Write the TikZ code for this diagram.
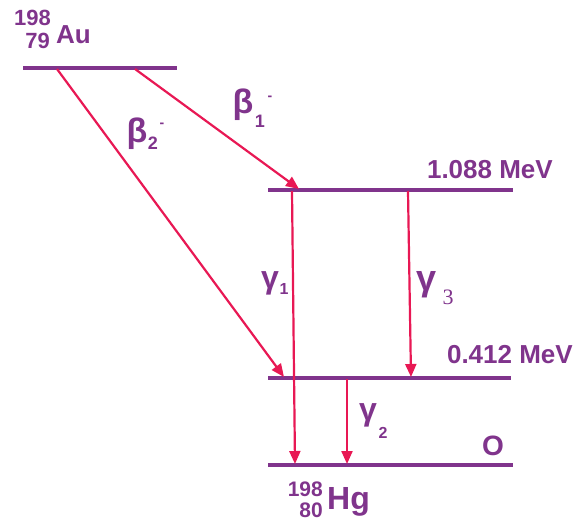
\documentclass[tikz,border=0pt]{standalone}
\usepackage{fontspec}
\setmainfont{Liberation Sans}
\newfontfamily\serifthree{Liberation Serif}
\usetikzlibrary{arrows.meta}
\definecolor{lvl}{RGB}{128,52,140}
\definecolor{arr}{RGB}{232,24,84}
\newcommand{\fs}[1]{\fontsize{#1}{#1}\selectfont}
\tikzset{
  level/.style={draw=lvl, line width=4.5pt},
  decay/.style={draw=arr, line width=2.2pt, -{Triangle[length=13pt,width=11pt]}},
  lab/.style={text=lvl, font=\bfseries, inner sep=0pt},
}
\begin{document}
\begin{tikzpicture}[x=1pt,y=-1pt]
\useasboundingbox (0,0) rectangle (575,522);
% levels
\coordinate (auL) at (23,68);   \coordinate (auR) at (177,68);
\coordinate (e1L) at (268,190); \coordinate (e1R) at (513,190);
\coordinate (e2L) at (268,378); \coordinate (e2R) at (511,378);
\coordinate (e0L) at (268,465); \coordinate (e0R) at (513,465);
\draw[level] (auL) -- (auR);
\draw[level] (e1L) -- (e1R);
\draw[level] (e2L) -- (e2R);
\draw[level] (e0L) -- (e0R);
% arrow endpoints
\coordinate (b1s) at (135,69);  \coordinate (b1e) at (299,189);
\coordinate (b2s) at (57,69);   \coordinate (b2e) at (284,377);
\coordinate (g1s) at (292,191); \coordinate (g1e) at (295,464);
\coordinate (g3s) at (408,191); \coordinate (g3e) at (411,377);
\coordinate (g2s) at (347,379); \coordinate (g2e) at (347,464);
\draw[decay] (b1s) -- (b1e);
\draw[decay] (b2s) -- (b2e);
\draw[decay] (g1s) -- (g1e);
\draw[decay] (g3s) -- (g3e);
\draw[decay] (g2s) -- (g2e);
% nuclide labels
\node[lab, font=\bfseries\fs{22}, anchor=base east] (au198) at (51,25) {198};
\node[lab, font=\bfseries\fs{22}, anchor=base east] (au79) at (50,48) {79};
\node[lab, font=\bfseries\fs{26}, anchor=base west] (au) at (56,43) {Au};
\node[lab, font=\bfseries\fs{21}, anchor=base east] (hg198) at (323,496) {198};
\node[lab, font=\bfseries\fs{21}, anchor=base east] (hg80) at (323,517) {80};
\node[lab, font=\bfseries\fs{32}, anchor=base west] (hg) at (327,509) {Hg};
% energies
\node[lab, font=\bfseries\fs{26}, anchor=base east] (mev1) at (553,178) {1.088 MeV};
\node[lab, font=\bfseries\fs{26}, anchor=base east] (mev2) at (573,363) {0.412 MeV};
\node[lab, font=\bfseries\fs{28}, anchor=base west] (zero) at (482,455) {O};
% beta labels
\node[lab, font=\bfseries\fs{34}] (b1) at (243,105) {β};
\node[lab, font=\bfseries\fs{18}] (b1sub) at (260,121) {1};
\node[lab, font=\bfseries\fs{14}] (b1sup) at (270,98) {-};
\node[lab, font=\bfseries\fs{34}] (b2) at (137,134) {β};
\node[lab, font=\bfseries\fs{18}] (b2sub) at (153,143) {2};
\node[lab, font=\bfseries\fs{14}] (b2sup) at (162,125) {-};
% gamma labels
\node[lab, font=\bfseries\fs{32}] (g1) at (270,283) {γ};
\node[lab, font=\bfseries\fs{16}] (g1sub) at (284,289) {1};
\node[lab, font=\bfseries\fs{36}] (g3) at (427,285) {γ};
\node[lab, font=\serifthree\fs{22}] (g3sub) at (448,297) {3};
\node[lab, font=\bfseries\fs{32}] (g2) at (368,415) {γ};
\node[lab, font=\bfseries\fs{16}] (g2sub) at (383,433) {2};
\end{tikzpicture}
\end{document}
